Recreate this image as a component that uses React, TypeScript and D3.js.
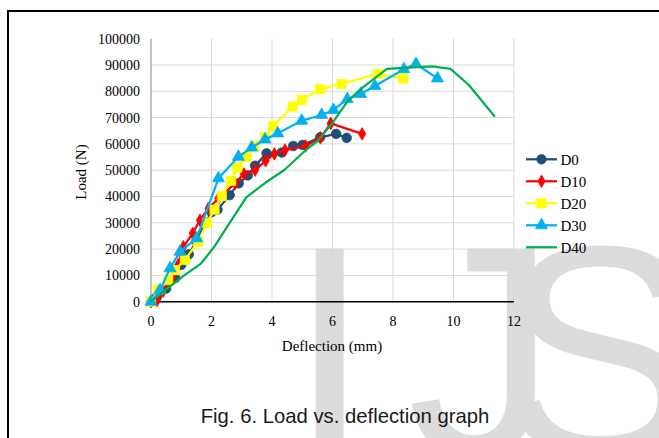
import React from "react";
import * as d3 from "d3";

type P = [number, number];

const d0: P[] = [[0,0],[0.2,2000],[0.5,5000],[0.8,9000],[1.0,14000],[1.25,18000],[1.5,23000],[1.8,30000],[2.0,34000],[2.2,35000],[2.6,40500],[2.9,45000],[3.2,48000],[3.44,51700],[3.82,56400],[4.32,56700],[4.7,59200],[5.01,59600],[5.59,62500],[6.12,63800],[6.47,62300]];
const d10: P[] = [[0,0],[0.2,500],[0.4,4000],[0.7,9000],[0.9,14000],[1.0,19000],[1.07,20900],[1.38,26000],[1.62,31000],[1.9,35500],[2.23,39300],[2.78,45000],[3.07,48600],[3.44,50000],[3.79,53600],[4.08,56200],[4.43,57700],[5.11,59200],[5.6,62300],[5.94,67800],[6.98,63800]];
const d20: P[] = [[0,0],[0.24,4600],[0.57,8200],[0.79,12000],[1.12,15900],[1.56,22800],[1.85,30000],[2.1,35000],[2.34,40200],[2.65,46000],[2.85,51000],[3.16,55100],[3.42,59200],[3.77,62700],[4.04,66800],[4.68,74200],[4.98,76700],[5.59,80800],[6.3,82800],[7.51,86600],[8.34,84900]];
const d30: P[] = [[0,0],[0.3,4400],[0.63,12700],[0.96,19000],[1.51,24100],[2.23,46900],[2.89,55100],[3.33,58600],[3.77,61700],[4.19,64000],[4.98,68800],[5.64,71000],[6.03,72900],[6.49,77000],[6.93,79000],[7.4,82000],[8.36,88400],[8.76,90400],[9.47,84900]];
const d40: P[] = [[0,0],[0.6,5500],[1.1,10000],[1.65,14500],[2.1,21000],[2.6,30000],[3.15,39700],[3.8,45400],[4.4,50000],[5.1,57500],[5.5,61000],[6.0,68000],[6.5,76300],[7.0,81500],[7.8,88500],[8.8,89200],[9.3,89500],[9.9,88500],[10.5,82500],[11.37,70300]];

const seriesNames = ["D0", "D10", "D20", "D30", "D40"];
const seriesData = [d0, d10, d20, d30, d40];
const seriesColors = ["#1F4E79", "#FF0000", "#FFFF00", "#00B0F0", "#00B050"];
const seriesMarkers = ["circle", "diamond", "square", "triangle", "none"];

const xTicks = [0, 2, 4, 6, 8, 10, 12];
const yTicks = [0, 10000, 20000, 30000, 40000, 50000, 60000, 70000, 80000, 90000, 100000];

const x = d3.scaleLinear().domain([0, 12]).range([151, 514]);
const y = d3.scaleLinear().domain([0, 100000]).range([301.7, 38.7]);

const symbolFor = (m: string) => {
  if (m === "circle") return d3.symbol(d3.symbolCircle, 72)();
  if (m === "diamond") return d3.symbol(d3.symbolDiamond, 46)();
  if (m === "square") return d3.symbol(d3.symbolSquare, 85)();
  if (m === "triangle") return d3.symbol(d3.symbolTriangle, 64)();
  return null;
};

const serif = "Liberation Serif, DejaVu Serif, serif";
const sans = "Liberation Sans, Arial, sans-serif";

export default function App() {
  const line = d3.line<P>().x(d => x(d[0])).y(d => y(d[1]));
  return (
    <svg width={659} height={438} style={{ position: "absolute", left: 0, top: 0, background: "#fff" }}>
      <g fontFamily={sans} fontSize={300} fill="#dcdcdc">
        <text x={288} y={455}>I</text>
        <text x={407} y={455}>J</text>
        <text x={499} y={455}>S</text>
      </g>
      <rect x={8} y={11} width={720} height={520} fill="none" stroke="#000" strokeWidth={2} />
      {yTicks.slice(1, -1).map(t => (
        <line key={"gy" + t} x1={x(0)} x2={x(12)} y1={y(t)} y2={y(t)} stroke="#d9d9d9" strokeWidth={1} />
      ))}
      {xTicks.slice(1).map(t => (
        <line key={"gx" + t} x1={x(t)} x2={x(t)} y1={y(0)} y2={y(100000)} stroke="#d9d9d9" strokeWidth={1} />
      ))}
      <line x1={x(0)} x2={x(0)} y1={y(0)} y2={y(100000)} stroke="#868686" strokeWidth={1} />
      <line x1={x(0)} x2={x(12)} y1={y(0)} y2={y(0)} stroke="#000" strokeWidth={1.5} />
      <g fontFamily={serif} fontSize={14} fill="#000">
        {yTicks.map(t => (
          <text key={"ty" + t} x={140} y={y(t)} dy="0.35em" textAnchor="end">{t}</text>
        ))}
        {xTicks.map(t => (
          <text key={"tx" + t} x={x(t)} y={326} textAnchor="middle">{t}</text>
        ))}
      </g>
      <text x={332} y={351} textAnchor="middle" fontFamily={serif} fontSize={15} fill="#000">Deflection (mm)</text>
      <text transform="translate(86,172) rotate(-90)" textAnchor="middle" fontFamily={serif} fontSize={15} fill="#000">Load (N)</text>
      {seriesData.map((data, i) => (
        <g key={"s" + i}>
          <path d={line(data) || ""} fill="none" stroke={seriesColors[i]} strokeWidth={2.25} strokeLinejoin="round" />
          {seriesMarkers[i] !== "none" && data.map((d, j) => (
            <path key={j} d={symbolFor(seriesMarkers[i]) || ""} transform={`translate(${x(d[0])},${y(d[1])})`} fill={seriesColors[i]} stroke={seriesColors[i]} strokeWidth={0.75} />
          ))}
        </g>
      ))}
      {seriesNames.map((name, i) => {
        const ly = 159.3 + i * 22;
        return (
          <g key={"l" + i}>
            <line x1={526} x2={557} y1={ly} y2={ly} stroke={seriesColors[i]} strokeWidth={2.25} />
            {seriesMarkers[i] !== "none" && (
              <path d={symbolFor(seriesMarkers[i]) || ""} transform={`translate(541.5,${ly})`} fill={seriesColors[i]} stroke={seriesColors[i]} strokeWidth={0.75} />
            )}
            <text x={560.5} y={ly} dy="0.35em" fontFamily={serif} fontSize={15} fill="#000">{name}</text>
          </g>
        );
      })}
      <text x={345} y={423} textAnchor="middle" fontFamily={sans} fontSize={20.3} fill="#1a1a1a">Fig. 6. Load vs. deflection graph</text>
    </svg>
  );
}
